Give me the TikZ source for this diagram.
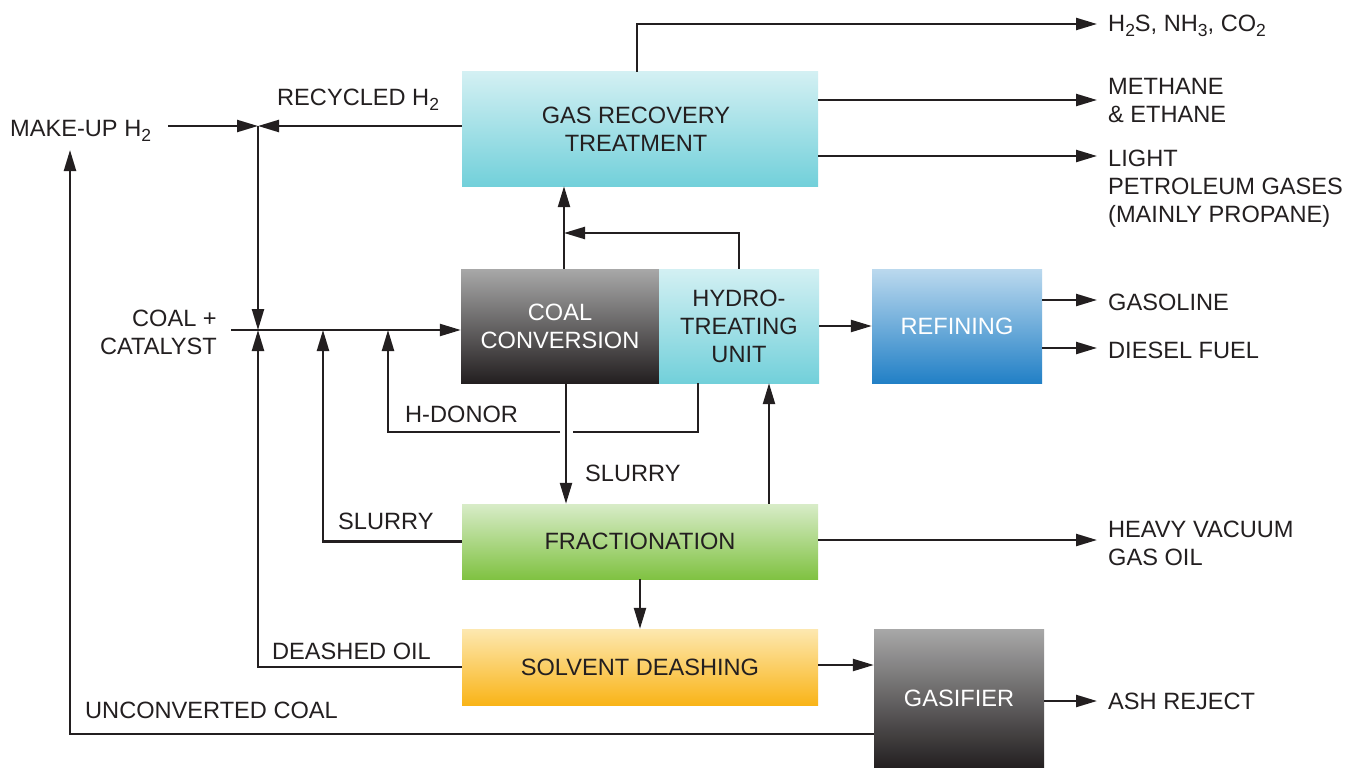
\documentclass[tikz,border=0pt]{standalone}
\usepackage{fontspec}
\setmainfont{Liberation Sans}
\usetikzlibrary{arrows.meta,calc}
\definecolor{ink}{HTML}{231F20}
\definecolor{cyanT}{HTML}{D3F0F3}
\definecolor{cyanB}{HTML}{72D0DA}
\definecolor{grayT}{HTML}{A8A8A8}
\definecolor{grayB}{HTML}{231F20}
\definecolor{blueT}{HTML}{BBD9EE}
\definecolor{blueB}{HTML}{2280C6}
\definecolor{greenT}{HTML}{D8ECC8}
\definecolor{greenB}{HTML}{80C242}
\definecolor{yellowT}{HTML}{FDE8B0}
\definecolor{yellowB}{HTML}{F9B418}
\newcommand{\subsc}[1]{\raisebox{-0.2em}{\fontsize{17.5}{18}\selectfont #1}}
\tikzset{
  box/.style={rectangle, inner sep=0pt, draw=none, align=center, text=ink},
  cyanbox/.style={box, top color=cyanT, bottom color=cyanB},
  graybox/.style={box, top color=grayT, bottom color=grayB, text=white},
  bluebox/.style={box, top color=blueT, bottom color=blueB, text=white},
  greenbox/.style={box, top color=greenT, bottom color=greenB},
  yellowbox/.style={box, top color=yellowT, bottom color=yellowB},
  lbl/.style={inner sep=0pt, anchor=west, align=left, text=ink},
  lblr/.style={inner sep=0pt, anchor=east, align=right, text=ink},
  flow/.style={draw=ink, line width=2.3pt},
  arr/.style={flow, -{Triangle[length=21pt,width=12pt]}},
}
\begin{document}
\begin{tikzpicture}[x=1pt, y=-1pt, font=\fontsize{23.6}{28}\selectfont]
\useasboundingbox[fill=white] (0,0) rectangle (1361,768);

% boxes
\node[cyanbox, minimum width=356pt, minimum height=114pt] (gas) at (640,129) {GAS RECOVERY\hspace*{8pt}\\TREATMENT\hspace*{8pt}};
\node[graybox, minimum width=198pt, minimum height=114pt] (coal) at (560,326) {COAL\\CONVERSION};
\node[cyanbox, minimum width=160pt, minimum height=114pt] (hydro) at (739,326) {HYDRO-\\TREATING\\UNIT};
\node[bluebox, minimum width=170pt, minimum height=114pt] (ref) at (957,326) {REFINING};
\node[greenbox, minimum width=356pt, minimum height=75pt] (frac) at (640,541.5) {FRACTIONATION};
\node[yellowbox, minimum width=356pt, minimum height=76pt] (deash) at (640,667) {SOLVENT DEASHING};
\node[graybox, minimum width=170pt, minimum height=139pt] (gasif) at (959,698.5) {GASIFIER};

% coordinates
\coordinate (eH2S) at (1097,24);
\coordinate (eMeth) at (1097,100);
\coordinate (eLight) at (1097,156);
\coordinate (eGasl) at (1097,300);
\coordinate (eDies) at (1097,348);
\coordinate (eHvgo) at (1097,540);
\coordinate (eAsh) at (1097,701);
\coordinate (jH) at (258,126);
\coordinate (mkStart) at (168,126);
\coordinate (jC) at (258,330);
\coordinate (jS) at (323,330);
\coordinate (jD) at (388,330);
\coordinate (cfeed) at (231,330);
\coordinate (hdC) at (698,432);
\coordinate (gapR) at (573,432);
\coordinate (gapL) at (560,432);
\coordinate (jG) at (564,233);
\coordinate (uc) at (70,734);
\coordinate (ucEnd) at (70,150);

% labels
\node[lbl] (lh2s) at (1108,26) {H\subsc{2}S, NH\subsc{3}, CO\subsc{2}};
\node[lbl] (lmeth) at (1108,100) {METHANE\\\& ETHANE};
\node[lbl] (llight) at (1108,188.5) {LIGHT\\PETROLEUM GASES\\(MAINLY PROPANE)};
\node[lbl] (lgasl) at (1108,302) {GASOLINE};
\node[lbl] (ldies) at (1108,350) {DIESEL FUEL};
\node[lbl] (lhvgo) at (1108,543) {HEAVY VACUUM\\GAS OIL};
\node[lbl] (lash) at (1108,701) {ASH REJECT};
\node[lbl] (lmk) at (10,131) {MAKE-UP H\subsc{2}};
\node[lbl] (lrec) at (277,100) {RECYCLED H\subsc{2}};
\node[lblr] (lcoal) at (217,332) {COAL +\\CATALYST};
\node[lbl] (lhd) at (405,414) {H-DONOR};
\node[lbl] (lsl1) at (585,473) {SLURRY};
\node[lbl] (lsl2) at (338,521) {SLURRY};
\node[lbl] (ldo) at (272,651) {DEASHED OIL};
\node[lbl] (luc) at (85,710) {UNCONVERTED COAL};

% connectors
\draw[arr] ([xshift=-3pt]gas.north) |- (eH2S);
\draw[arr] (gas.east |- eMeth) -- (eMeth);
\draw[arr] (gas.east |- eLight) -- (eLight);
\draw[arr] (gas.west |- jH) -- (jH);
\draw[arr] (mkStart) -- (jH);
\draw[arr] (jH) -- (jC);
\draw[arr] (cfeed) -- (coal.west |- cfeed);
\draw[arr] (deash.west) -| (jC);
\draw[arr] (frac.west) -| (jS);
\draw[flow] (hydro.south -| hdC) -- (hdC) -- (gapR);
\draw[arr] (gapL) -| (jD);
\draw[arr] (coal.south -| 566,0) -- (frac.north -| 566,0);
\draw[arr] (coal.north -| jG) -- (gas.south -| jG);
\draw[arr] (hydro.north) |- (jG);
\draw[arr] (frac.north -| 769,0) -- (hydro.south -| 769,0);
\draw[arr] (frac.east |- eHvgo) -- (eHvgo);
\draw[arr] (frac.south) -- (deash.north);
\draw[arr] (deash.east |- 0,665) -- (gasif.west |- 0,665);
\draw[arr] (gasif.east |- eAsh) -- (eAsh);
\draw[arr] (gasif.west |- uc) -- (uc) -- (ucEnd);
\draw[arr] (hydro.east) -- (ref.west);
\draw[arr] (ref.east |- eGasl) -- (eGasl);
\draw[arr] (ref.east |- eDies) -- (eDies);
\end{tikzpicture}
\end{document}
